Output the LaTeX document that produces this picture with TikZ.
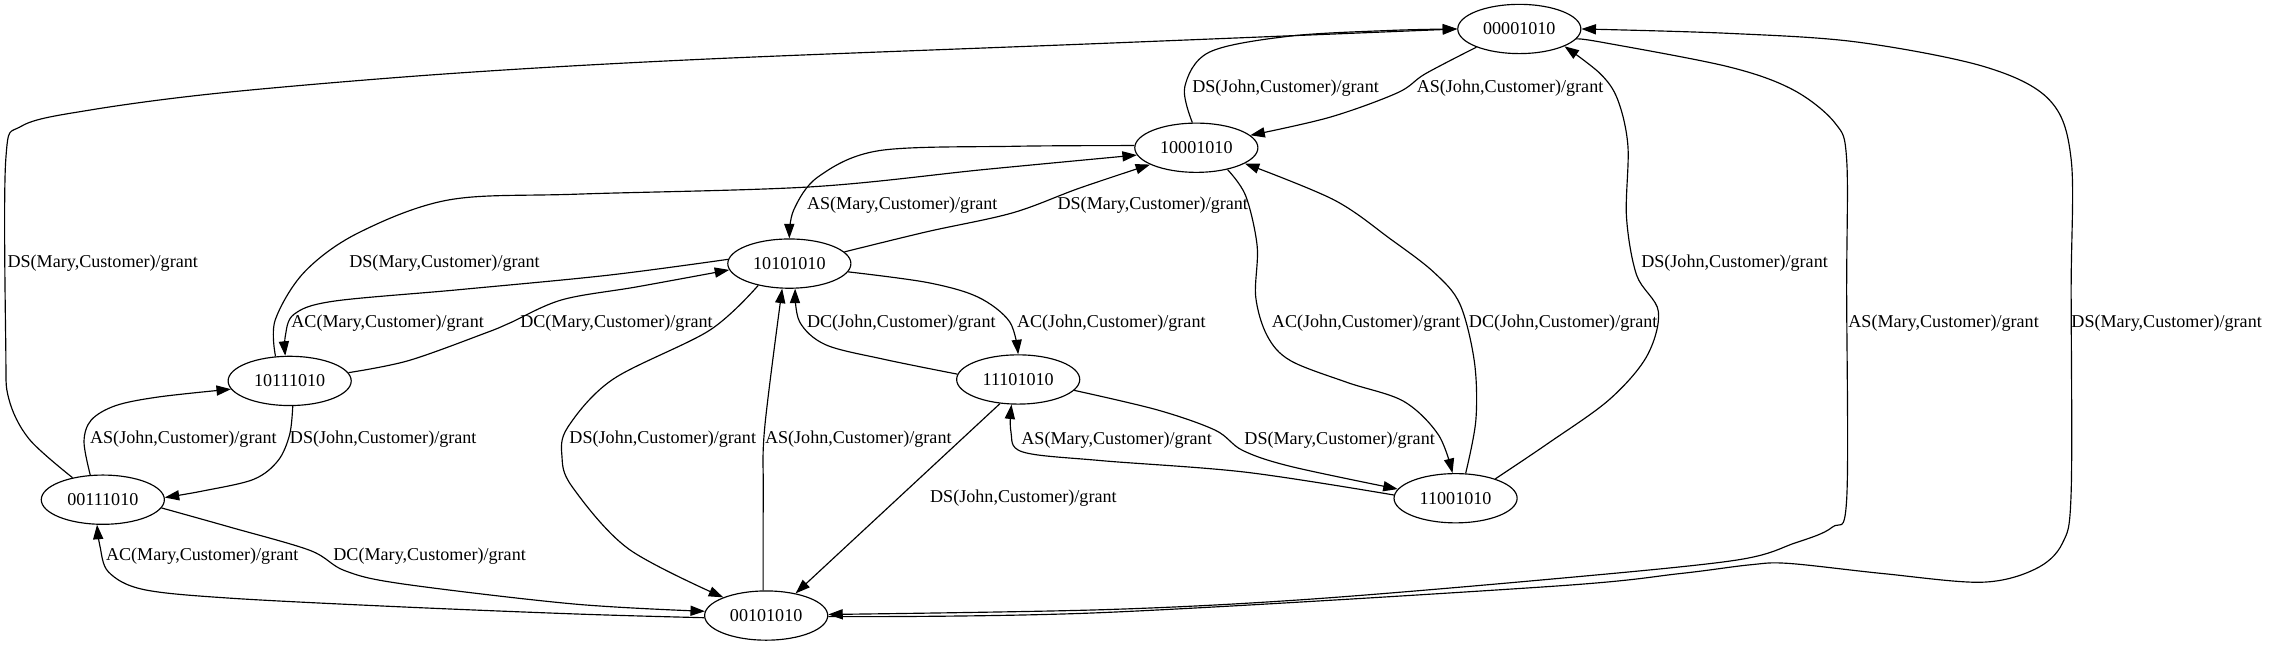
\documentclass[tikz,border=0pt]{standalone}
\usepackage{fontspec}
\setmainfont{Liberation Serif}
\usetikzlibrary{shapes.geometric,arrows.meta}
\newcommand\gvsize{\fontsize{12.5}{15}\selectfont}
\tikzset{
  state/.style={draw,ellipse,line width=0.8pt,minimum width=85pt,minimum height=34pt,inner sep=0pt,font=\gvsize},
  lbl/.style={anchor=west,inner sep=0pt,font=\gvsize},
  arr/.style={-{Triangle[length=10pt,width=7pt]},line width=0.8pt},
  spl/.style={smooth,tension=0.55}
}
\begin{document}
\begin{tikzpicture}[x=1pt,y=-1pt]
\useasboundingbox (0,0) rectangle (1568,445);
\foreach \n/\x/\y in {00001010/1049/20,10001010/826/102,10101010/545/182,10111010/200/263,
  11101010/703/262,00111010/71/345,11001010/1005/344,00101010/529/425}
  \node[state] (s\n) at (\x,\y) {\n};
% top pair
\draw[arr] plot[spl] coordinates {(s00001010.203) (984,51) (965,64) (918,81) (s10001010.13)};
\draw[arr] plot[spl] coordinates {(s10001010.99) (818,60) (835,36) (890,25) (960,21) (s00001010.180)};
\draw[arr] plot[spl] coordinates {(s10001010.178) (700,101) (607,104) (565,122) (548,145) (s10101010.north)};
\draw[arr] plot[spl] coordinates {(s10101010.12) (640,160) (699,147) (745,130) (s10001010.200)};
\draw[arr] plot[spl] coordinates {(s10101010.352) (640,195) (675,205) (697,222) (s11101010.north)};
\draw[arr] plot[spl] coordinates {(s11101010.175) (610,248) (570,238) (552,222) (s10101010.283)};
\draw[arr] plot[spl] coordinates {(s10101010.176) (420,190) (317,200) (230,208) (203,217) (197,232) (s10111010.100)};
\draw[arr] plot[spl] coordinates {(s10111010.8) (282,249) (335,230) (352,223) (388,207) (440,198) (s10101010.186)};
\draw[arr] plot[spl] coordinates {(s10111010.120) (190,221) (210,188) (247,161) (310,138) (400,134) (560,129) (680,117) (s10001010.187)};
% left side
\draw[arr] plot[spl] coordinates {(s10111010.277) (200,300) (192,318) (175,331) (140,339) (s00111010.2)};
\draw[arr] plot[spl] coordinates {(s00111010.117) (58,305) (63,290) (80,280) (110,274) (s10111010.188)};
\draw[arr] plot[spl] coordinates {(s00111010.144) (20,303) (6,275) (4,240) (4,110) (15,87) (62,76) (154,64) (308,51) (483,41) (760,30) (s00001010.180)};
\draw[arr] plot[spl] coordinates {(s00111010.352) (159,364) (214,380) (238,394) (277,403) (396,417) (s00101010.176)};
\draw[arr] plot[spl] coordinates {(s00101010.182) (400,424) (277,419) (159,413) (99,407) (75,395) (69,377) (s00111010.257)};
% middle
\draw[arr] plot[spl] coordinates {(s10101010.215) (490,228) (423,262) (392,295) (388,315) (395,336) (434,379) (s00101010.157)};
\draw[arr] plot[spl] coordinates {(s00101010.97) (527,340) (528,295) (s10101010.254)};
\draw[arr] (s11101010.233) -- (s00101010.37);
\draw[arr] plot[spl] coordinates {(s11101010.349) (799,283) (839,297) (858,311) (891,322) (s11001010.171)};
\draw[arr] plot[spl] coordinates {(s11001010.177) (860,326) (760,318) (706,312) (698,298) (s11101010.255)};
% right side
\draw[arr] plot[spl] coordinates {(s10001010.325) (860,135) (868,170) (867,205) (875,232) (891,249) (930,264) (969,277) (993,300) (s11001010.97)};
\draw[arr] plot[spl] coordinates {(s11001010.68) (1019,290) (1018,250) (1008,210) (990,188) (960,165) (921,138) (s10001010.342)};
\draw[arr] plot[spl] coordinates {(s11001010.26) (1069,306) (1111,276) (1137,246) (1145,215) (1130,190) (1123,150) (1124,101) (1117,69) (1105,51) (s00001010.339)};
\draw[arr] plot[spl] coordinates {(s00001010.350) (1105,29) (1193,46) (1238,62) (1267,85) (1275,110) (1275,200) (1275,345) (1265,364) (1239,375) (1197,387) (1069,400) (900,414) (760,421) (s00101010.1)};
\draw[arr] plot[spl] coordinates {(s00101010.359) (760,423) (1069,405) (1160,396) (1208,390) (1235,389) (1300,396) (1368,402) (1405,393) (1424,375) (1430,340) (1430,200) (1430,110) (1415,69) (1370,46) (1282,29) (1193,23) (s00001010.0)};
% edge labels
\node[lbl] (l1) at (978,61) {AS(John,Customer)/grant};
\node[lbl] (l2) at (823,61) {DS(John,Customer)/grant};
\node[lbl] (l3) at (557,142) {AS(Mary,Customer)/grant};
\node[lbl] (l4) at (730,142) {DS(Mary,Customer)/grant};
\node[lbl] (l5) at (702,223) {AC(John,Customer)/grant};
\node[lbl] (l6) at (557,223) {DC(John,Customer)/grant};
\node[lbl] (l7) at (201,223) {AC(Mary,Customer)/grant};
\node[lbl] (l8) at (359,223) {DC(Mary,Customer)/grant};
\node[lbl] (l9) at (241,182) {DS(Mary,Customer)/grant};
\node[lbl] (l10) at (200,303) {DS(John,Customer)/grant};
\node[lbl] (l11) at (62,303) {AS(John,Customer)/grant};
\node[lbl] (l12) at (5,182) {DS(Mary,Customer)/grant};
\node[lbl] (l13) at (230,384) {DC(Mary,Customer)/grant};
\node[lbl] (l14) at (73,384) {AC(Mary,Customer)/grant};
\node[lbl] (l15) at (393,303) {DS(John,Customer)/grant};
\node[lbl] (l16) at (528,303) {AS(John,Customer)/grant};
\node[lbl] (l17) at (642,344) {DS(John,Customer)/grant};
\node[lbl] (l18) at (859,304) {DS(Mary,Customer)/grant};
\node[lbl] (l19) at (705,304) {AS(Mary,Customer)/grant};
\node[lbl] (l20) at (878,223) {AC(John,Customer)/grant};
\node[lbl] (l21) at (1014,223) {DC(John,Customer)/grant};
\node[lbl] (l22) at (1133,182) {DS(John,Customer)/grant};
\node[lbl] (l23) at (1276,223) {AS(Mary,Customer)/grant};
\node[lbl] (l24) at (1430,223) {DS(Mary,Customer)/grant};
\end{tikzpicture}
\end{document}
